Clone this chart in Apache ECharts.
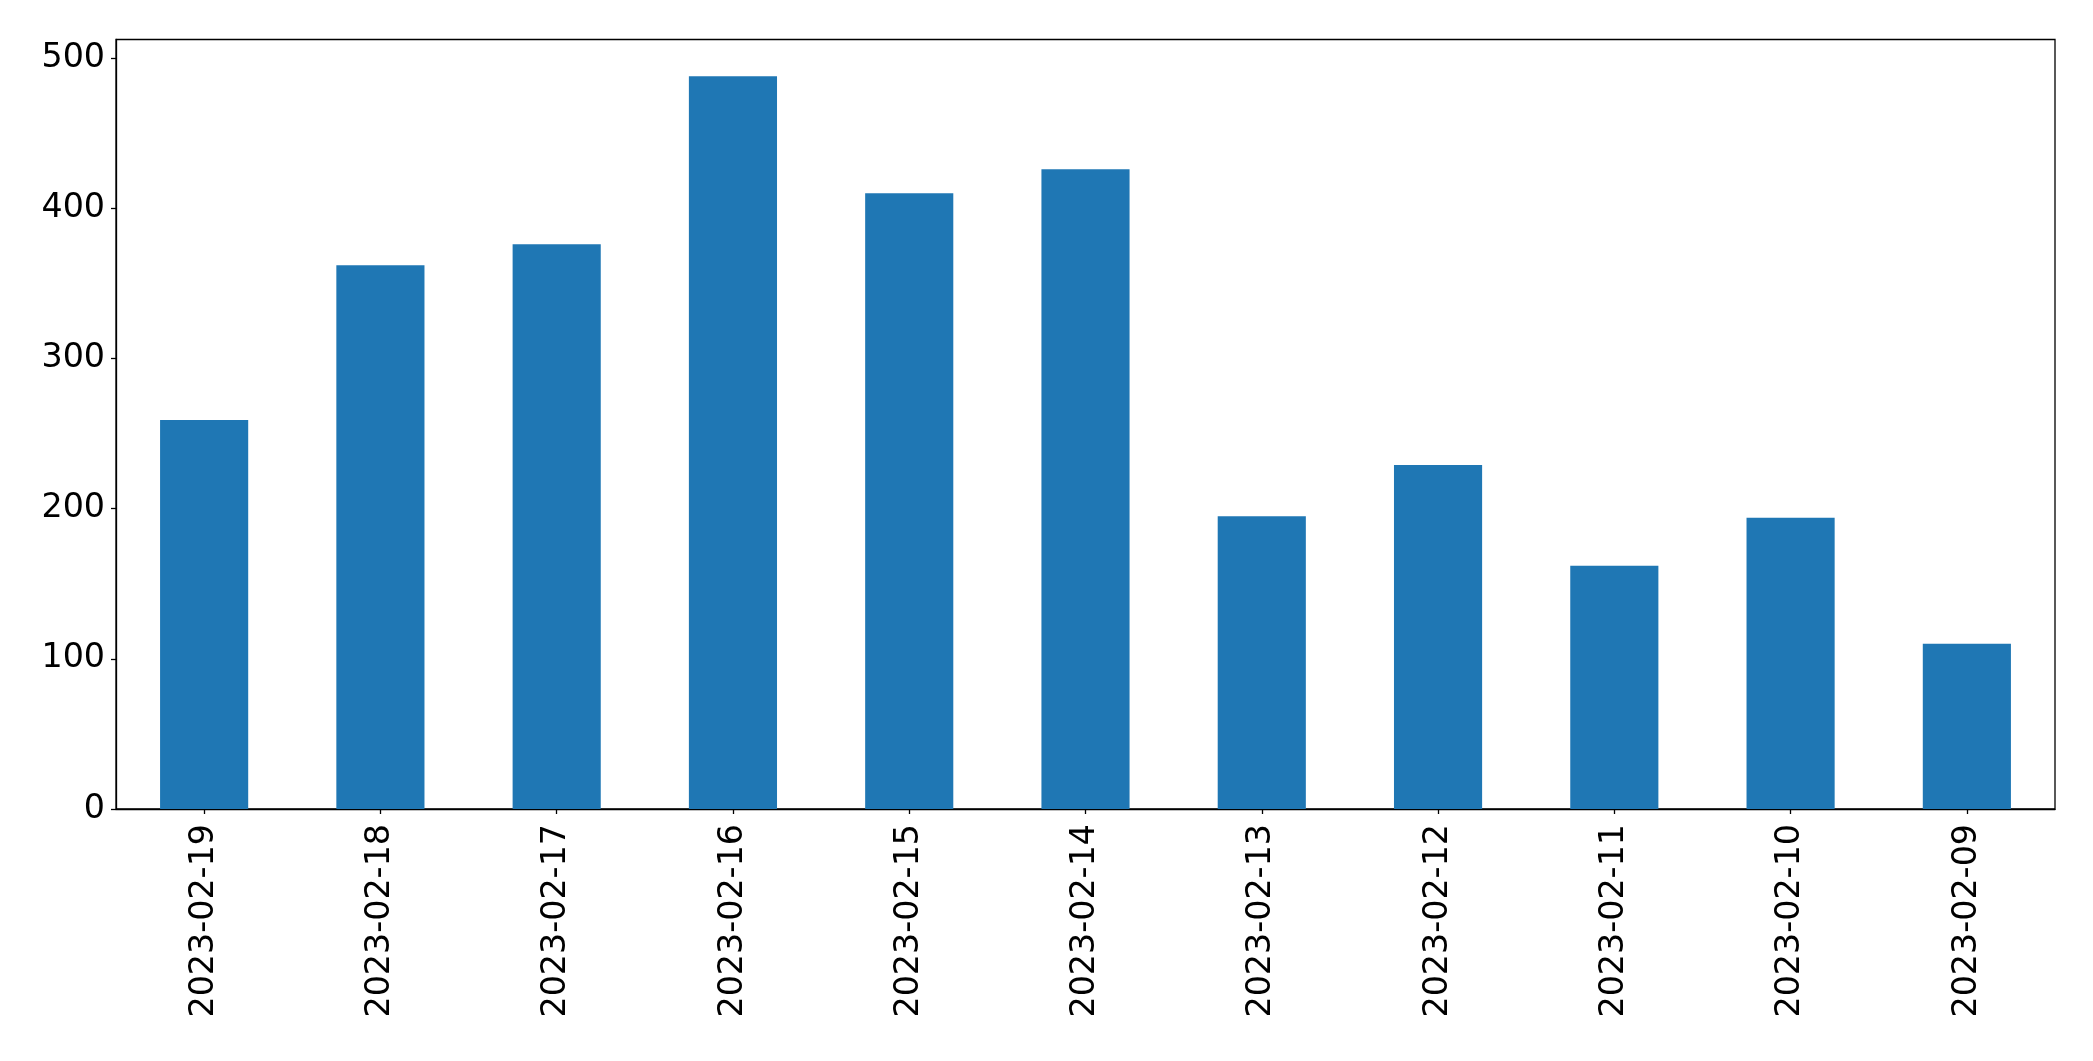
<!DOCTYPE html>
<html>
<head>
<meta charset="utf-8">
<script src="https://cdn.jsdelivr.net/npm/echarts@6/dist/echarts.min.js"></script>
<style>
html,body{margin:0;padding:0;background:#fff;}
#chart{width:2093px;height:1061px;}
</style>
</head>
<body>
<div id="chart"></div>
<script>
const categories = ["2023-02-19","2023-02-18","2023-02-17","2023-02-16","2023-02-15","2023-02-14","2023-02-13","2023-02-12","2023-02-11","2023-02-10","2023-02-09"];
const values = [259, 362, 376, 488, 410, 426, 195, 229, 162, 194, 110];
const yTicks = [0, 100, 200, 300, 400, 500];

const yMax = Math.max(...values) * 1.05;
const chart = echarts.init(document.getElementById('chart'), null, {renderer: 'canvas'});
chart.setOption({
  animation: false,
  backgroundColor: '#ffffff',
  grid: {left: 116, right: 38, top: 39.5, bottom: 252, show: true, borderColor: '#000', borderWidth: 1.3, backgroundColor: 'transparent'},
  xAxis: {
    type: 'category',
    data: categories,
    axisLine: {show: true, lineStyle: {color: '#000', width: 1.3}},
    axisTick: {show: true, alignWithLabel: true, length: 5, lineStyle: {color: '#000', width: 1.3}},
    axisLabel: {rotate: 90, margin: 15, color: '#000', fontSize: 33.3, fontFamily: 'DejaVu Sans', interval: 0}
  },
  yAxis: {
    type: 'value',
    min: 0,
    max: yMax,
    interval: 100,
    splitLine: {show: false},
    axisLine: {show: true, lineStyle: {color: '#000', width: 1.3}},
    axisTick: {show: true, length: 5, lineStyle: {color: '#000', width: 1.3}},
    axisLabel: {margin: 11, color: '#000', fontSize: 33.3, fontFamily: 'DejaVu Sans', showMaxLabel: false,
      formatter: v => yTicks.includes(v) ? String(v) : ''}
  },
  series: [{
    type: 'bar',
    data: values,
    barWidth: '50%',
    itemStyle: {color: '#1f77b4'}
  }]
});
</script>
</body>
</html>
